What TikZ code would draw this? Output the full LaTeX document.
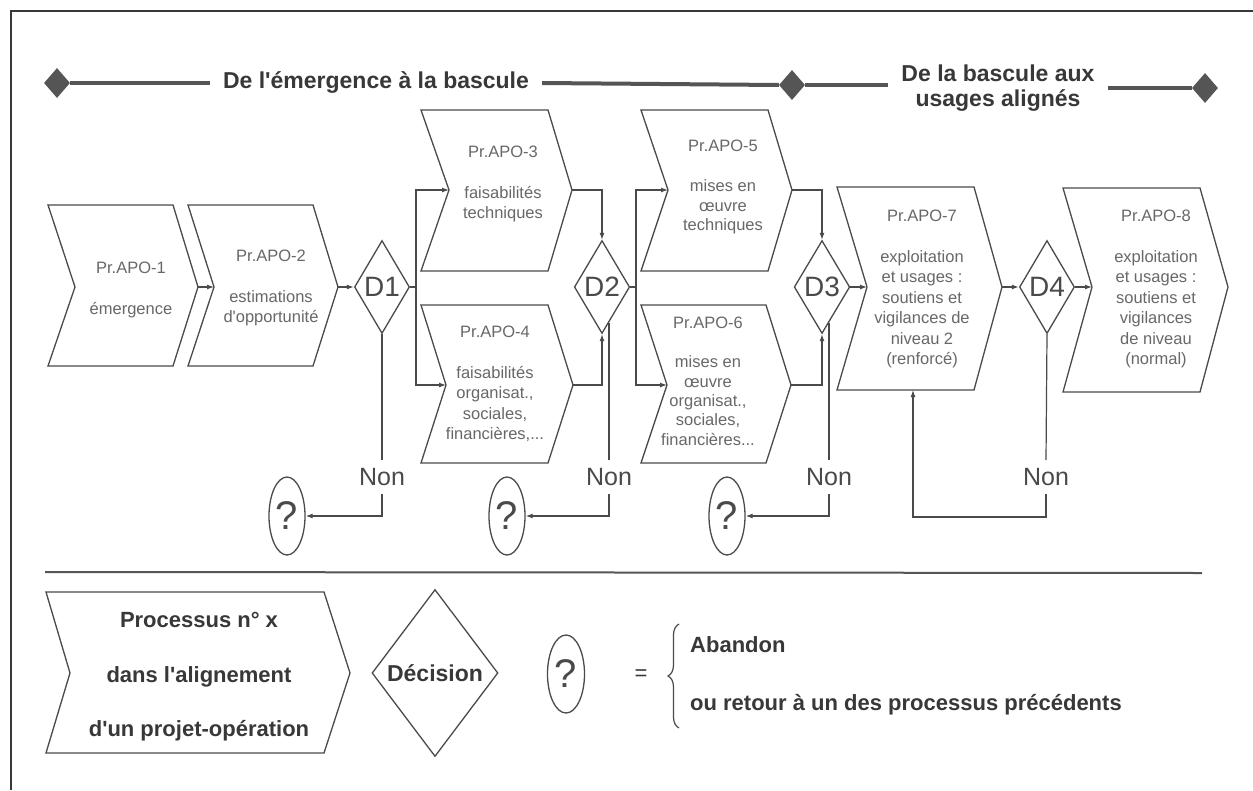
\documentclass[tikz,border=0pt]{standalone}
\usepackage{fontspec}
\setmainfont{Liberation Sans}
\usetikzlibrary{shapes.geometric,arrows.meta,decorations.pathreplacing}

\definecolor{ink}{HTML}{4A4A4A}
\definecolor{softink}{HTML}{686868}
\definecolor{headink}{HTML}{383838}
\definecolor{barink}{HTML}{555555}

\newcommand{\apos}{\textquotesingle}

% process chevron: name, left x, right x, top y, bottom y, middle y, notch depth, tip depth
\newcommand{\procshape}[8]{%
  \draw[procline] (#2,#4) -- (#3,#4) -- ({#3+#8},#6) -- (#3,#5) -- (#2,#5) -- ({#2+#7},#6) -- cycle;
  \coordinate (#1-in) at ({#2+#7},#6);
  \coordinate (#1-out) at ({#3+#8},#6);
}

\tikzset{
  procline/.style={draw=ink, line width=1.3pt, line join=miter},
  link/.style={draw=ink, line width=1.2pt},
  arr/.style={link, -{Latex[length=7pt,width=5pt]}},
  dec/.style={diamond, draw=ink, line width=1.3pt, minimum width=55pt, minimum height=93pt,
              inner sep=0pt, font=\fontsize{28}{30}\selectfont, text=ink},
  qmark/.style={ellipse, draw=ink, line width=1.3pt, minimum width=36pt, minimum height=78pt,
                inner sep=0pt, font=\fontsize{40}{42}\selectfont, text=ink},
  nonlbl/.style={inner xsep=0pt, inner ysep=8pt, font=\fontsize{25}{27}\selectfont, text=ink},
  ptext/.style={align=center, inner sep=0pt, font=\fontsize{16.5}{20.5}\selectfont, text=softink},
  ttl/.style={align=center, inner ysep=0pt, inner xsep=13pt,
              font=\bfseries\fontsize{23}{25}\selectfont, text=headink},
  tmark/.style={diamond, fill=barink, minimum width=26pt, minimum height=30pt, inner sep=0pt},
  tbar/.style={draw=barink, line width=4pt},
  legtext/.style={font=\bfseries\fontsize{22}{24}\selectfont, text=headink, inner sep=0pt},
}

\begin{document}
\begin{tikzpicture}[x=1pt, y=-1pt]
  \fill[white] (0,0) rectangle (1253,790);
  \useasboundingbox (0,0) rectangle (1253,790);

  % open frame
  \draw[headink, line width=1.5pt] (11,790) -- (11,11) -- (1253,11);

  % ---- phase banner ----
  \node[tmark] (m1) at (57,83) {};
  \node[ttl] (ph1) at (376,83) {De l\apos émergence à la bascule};
  \node[tmark] (m2) at (792,85) {};
  \node[ttl] (ph2) at (998,88) {De la bascule aux\\usages alignés};
  \node[tmark] (m3) at (1205,88) {};
  \draw[tbar] (m1.east) -- (ph1.west);
  \draw[tbar] (ph1.east) -- (m2.west);
  \draw[tbar] (m2.east) -- (m2.east -| ph2.west);
  \draw[tbar] (m3.west -| ph2.east) -- (m3.west);

  % ---- processes ----
  \procshape{A1}{48}{173}{205}{366}{287}{27}{25}
  \procshape{A2}{188}{313}{205}{366}{287}{26}{25}
  \procshape{A3}{421}{548}{110}{271}{190}{28}{24}
  \procshape{A4}{421}{548}{305}{463}{385}{25}{25}
  \procshape{A5}{641}{768}{110}{271}{190}{27}{24}
  \procshape{A6}{641}{766}{305}{463}{385}{26}{25}
  \procshape{A7}{837}{974}{187}{390}{287}{30}{28}
  \procshape{A8}{1063}{1200}{188}{392}{287}{29}{28}

  \node[ptext] (t1) at (131,290) {Pr.APO-1\\[20.5pt]émergence};
  \node[ptext] (t2) at (271,288) {Pr.APO-2\\[20.5pt]estimations\\d\apos opportunité};
  \node[ptext] (t3) at (503,184) {Pr.APO-3\\[20.5pt]faisabilités\\techniques};
  \node[ptext] (t4) at (495,384) {Pr.APO-4\\[20.5pt]faisabilités\\organisat.,\\sociales,\\financières,...};
  \node[ptext, font=\fontsize{16.5}{19.5}\selectfont] (t5) at (723,187)
       {Pr.APO-5\\[20.5pt]mises en\\œuvre\\techniques};
  \node[ptext, font=\fontsize{16.5}{19.3}\selectfont] (t6) at (708,381)
       {Pr.APO-6\\[20.5pt]mises en\\œuvre\\organisat.,\\sociales,\\financières...};
  \node[ptext] (t7) at (922,289)
       {Pr.APO-7\\[20.5pt]exploitation\\et usages :\\soutiens et\\vigilances de\\niveau 2\\(renforcé)};
  \node[ptext] (t8) at (1156,289)
       {Pr.APO-8\\[20.5pt]exploitation\\et usages :\\soutiens et\\vigilances\\de niveau\\(normal)};

  % ---- decisions ----
  \node[dec] (D1) at (382,287) {D1};
  \node[dec] (D2) at (602,287) {D2};
  \node[dec] (D3) at (822,287) {D3};
  \node[dec] (D4) at (1047,287) {D4};

  % ---- flow ----
  \draw[arr] (A1-out) -- (A2-in);
  \draw[arr] (A2-out) -- (D1.west);

  \coordinate (b1) at (416,287);
  \draw[link] (D1.east) -- (b1);
  \draw[arr] (b1) |- (A3-in);
  \draw[arr] (b1) |- (A4-in);
  \draw[arr] (A3-out) -| (D2.north);
  \draw[arr] (A4-out) -| (D2.south);

  \coordinate (b2) at (636,287);
  \draw[link] (D2.east) -- (b2);
  \draw[arr] (b2) |- (A5-in);
  \draw[arr] (b2) |- (A6-in);
  \draw[arr] (A5-out) -| (D3.north);
  \draw[arr] (A6-out) -| (D3.south);

  \draw[arr] (D3.east) -- (A7-in);
  \draw[arr] (A7-out) -- (D4.west);
  \draw[arr] (D4.east) -- (A8-in);

  % ---- "Non" exits ----
  \node[nonlbl] (N1) at (382,477) {Non};
  \node[nonlbl] (N2) at (609,477) {Non};
  \node[nonlbl] (N3) at (829,477) {Non};
  \node[nonlbl] (N4) at (1046,477) {Non};

  \node[qmark] (Q1) at (287,516) {?};
  \node[qmark] (Q2) at (507,516) {?};
  \node[qmark] (Q3) at (727,516) {?};

  \draw[link] (D1.south) -- (N1.north);
  \draw[arr] (N1.south) |- (Q1.east);
  \draw[link] (N2.north) -- (N2.north |- D2.-79);
  \draw[arr] (N2.south) |- (Q2.east);
  \draw[link] (N3.north) -- (N3.north |- D3.-79);
  \draw[arr] (N3.south) |- (Q3.east);

  \coordinate (loopL) at (913,517);
  \coordinate (A7-back) at (913,390);
  \draw[link] (D4.south) -- (N4.north);
  \draw[arr] (N4.south) |- (loopL) -- (A7-back);

  % ---- legend ----
  \draw[barink, line width=2pt] (45,572) -- (1202,573);

  \procshape{LG}{46}{324}{592}{753}{673}{24}{26}
  \node[legtext, align=center, font=\bfseries\fontsize{22}{54.5}\selectfont] (lgt) at (199,677)
       {Processus n° x\\dans l\apos alignement\\d\apos un projet-opération};
  \node[dec, minimum width=126pt, minimum height=167pt, font=\bfseries\fontsize{23}{25}\selectfont,
        text=headink] (DL) at (435,673) {Décision};
  \node[qmark, minimum width=37pt] (QL) at (566,674) {?};
  \node[font=\fontsize{22}{24}\selectfont, text=headink, inner sep=0pt] (eq) at (641,675) {=};
  \draw[ink, line width=1.2pt, decorate, decoration={brace, amplitude=11pt}] (679,728) -- (679,624);
  \node[legtext, anchor=mid west] (ab) at (690,650) {Abandon};
  \node[legtext, anchor=mid west] (rt) at (690,708) {ou retour à un des processus précédents};
\end{tikzpicture}
\end{document}
